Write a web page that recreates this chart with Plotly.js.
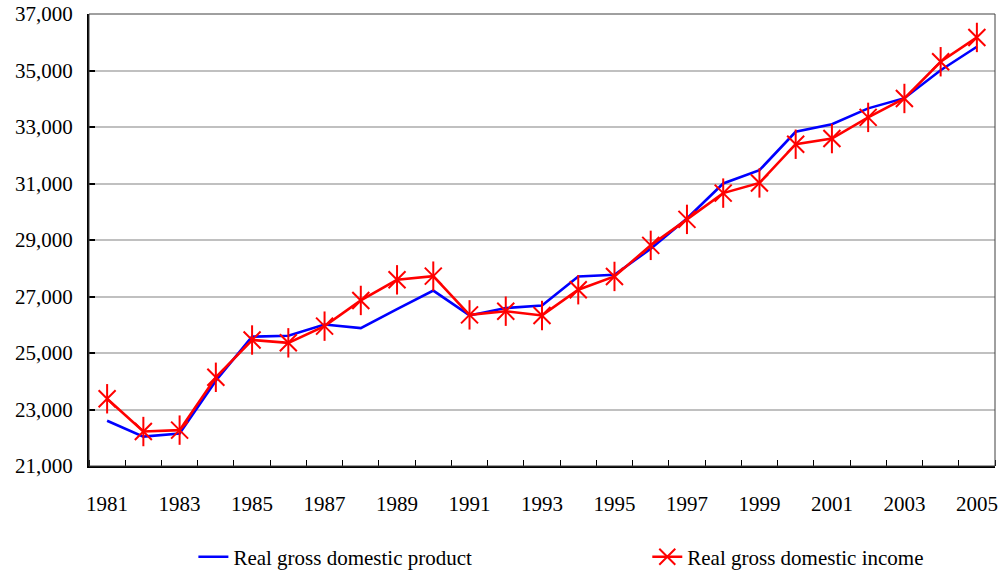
<!DOCTYPE html>
<html>
<head>
<meta charset="utf-8">
<script src="https://cdn.plot.ly/plotly-3.0.1.min.js"></script>
<style>html,body{margin:0;padding:0;background:#fff;}#chart{width:1002px;height:572px;}</style>
</head>
<body>
<div id="chart"></div>
<script>
const years = [1981,1982,1983,1984,1985,1986,1987,1988,1989,1990,1991,1992,1993,1994,1995,1996,1997,1998,1999,2000,2001,2002,2003,2004,2005];
const gdp = [22600,22040,22150,24020,25580,25610,26010,25880,26550,27210,26330,26590,26680,27710,27770,28690,29760,31000,31470,32830,33100,33660,34020,35010,35840];
const gdi = [23380,22220,22270,24140,25460,25360,25950,26860,27590,27720,26350,26480,26330,27240,27710,28810,29730,30660,31020,32390,32590,33340,34010,35310,36170];
const xLabels = [1981,1983,1985,1987,1989,1991,1993,1995,1997,1999,2001,2003,2005];
const seriesNames = ['Real gross domestic product','Real gross domestic income'];

const fontFam = '"Liberation Serif", "Times New Roman", serif';
const traces = [
  {x: years, y: gdp, name: seriesNames[0], type: 'scatter', mode: 'lines', legend: 'legend',
   line: {color: '#0000ff', width: 2.6}},
  {x: years, y: gdi, name: seriesNames[1], type: 'scatter', mode: 'lines+markers', legend: 'legend2',
   line: {color: '#ff0000', width: 2.6}, legendgroup: 'gdi',
   marker: {symbol: 'x-thin-open', size: 17, color: '#ff0000', line: {color: '#ff0000', width: 2}}},
  {x: years, y: gdi, name: seriesNames[1], type: 'scatter', mode: 'markers', showlegend: false, legendgroup: 'gdi', legend: 'legend2',
   marker: {symbol: 'line-ns-open', size: 21, color: '#ff0000', line: {color: '#ff0000', width: 2}}}
];
const legBase = {orientation: 'h', xref: 'container', yref: 'container', xanchor: 'left', y: 0.026, yanchor: 'middle',
                 font: {family: fontFam, size: 21, color: '#000'}, bgcolor: 'rgba(0,0,0,0)'};
const layout = {
  width: 1002, height: 572,
  margin: {l: 89, r: 7, t: 14, b: 106},
  paper_bgcolor: '#fff', plot_bgcolor: '#fff',
  font: {family: fontFam, size: 21, color: '#000'},
  showlegend: true,
  legend: Object.assign({}, legBase, {x: 0.193}),
  legend2: Object.assign({}, legBase, {x: 0.646}),
  xaxis: {type: 'linear', range: [1980.5, 2005.5], tickmode: 'array', tickvals: xLabels,
          ticktext: xLabels.map(String), ticks: '', showgrid: false, zeroline: false,
          showline: true, linecolor: '#000', linewidth: 2, ticklabelstandoff: 18,
          tickfont: {family: fontFam, size: 21, color: '#000'},
          minor: {tick0: 1980.5, dtick: 1, ticks: 'inside', ticklen: 6, tickcolor: '#000', tickwidth: 1, showgrid: false}},
  yaxis: {range: [21000, 37000], dtick: 2000, tick0: 21000, tickformat: ',d', ticks: 'inside', ticklen: 6,
          tickcolor: '#000', tickwidth: 2, showgrid: true, gridcolor: '#c0c0c0', gridwidth: 2, zeroline: false,
          showline: true, linecolor: '#000', linewidth: 2, ticklabelstandoff: 10,
          tickfont: {family: fontFam, size: 21, color: '#000'}},
  shapes: [{type: 'rect', xref: 'paper', yref: 'paper', x0: 0, x1: 1, y0: 0, y1: 1,
            line: {color: '#404040', width: 1}, layer: 'above'}]
};
Plotly.newPlot('chart', traces, layout, {displayModeBar: false, staticPlot: true});
</script>
</body>
</html>
